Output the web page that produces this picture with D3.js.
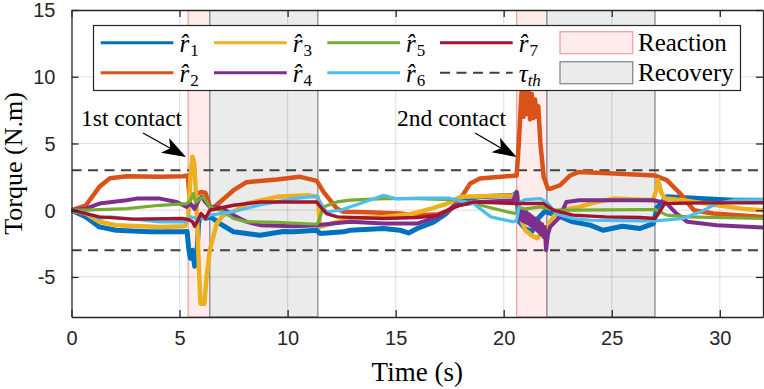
<!DOCTYPE html>
<html><head><meta charset="utf-8">
<script src="https://cdn.jsdelivr.net/npm/d3@7/dist/d3.min.js"></script>
<style>
html,body{margin:0;padding:0;background:#fff;}
svg{display:block;}
</style></head>
<body>
<svg id="chart" width="764" height="389"></svg>
<script>
// ---------------- DATA ----------------
const xTicks = [0, 5, 10, 15, 20, 25, 30];
const yTicks = [-5, 0, 5, 10, 15];
const threshold = 3;
const reactionSpans = [[5.4, 6.4], [20.6, 22.0]];
const recoverySpans = [[6.4, 11.4], [22.0, 27.0]];
const seriesNames = ["r1", "r2", "r3", "r4", "r5", "r6", "r7"];
const seriesColors = ["#0072BD", "#D95319", "#EDB120", "#7E2F8E", "#77AC30", "#4DBEEE", "#A2142F"];

const r1 = [[0,0],[0.67,-0.5],[1.29,-1.25],[2.06,-1.5],[3.6,-1.62],[5.15,-1.62],[5.35,-1.6],[5.42,-2.8],[5.5,-3.6],[5.6,-3.0],[5.7,-4.2],[5.8,-3.4],[5.88,-1.0],[5.95,-0.4],[6.2,-0.6],[6.45,-0.5],[6.87,-1.0],[7.5,-1.62],[8.73,-1.87],[9.8,-1.6],[10.27,-1.62],[11.35,-1.5],[11.5,-1.75],[12.58,-1.62],[12.9,-1.5],[14.44,-1.37],[15.2,-1.5],[15.6,-1.7],[16.0,-1.37],[16.75,-0.9],[17.3,-0.3],[18.0,0.8],[18.9,1.0],[20.45,1.12],[20.6,1.3],[20.7,-0.8],[21.0,-1.4],[21.3,-1.6],[21.6,-0.6],[21.9,-0.1],[22.46,-0.37],[23.2,-0.87],[24.0,-1.12],[24.6,-1.5],[25.5,-1.2],[26.3,-1.37],[26.93,-1.0],[27.1,0.2],[27.55,1.0],[29.1,0.87],[30.64,0.75],[32,0.75]];
const r2 = [[0,0],[0.67,0.37],[1.29,1.75],[1.78,2.4],[2.55,2.55],[4.1,2.5],[5.18,2.55],[5.38,2.6],[5.45,1.2],[5.6,1.0],[5.8,1.2],[6.0,1.37],[6.2,1.3],[6.4,0.3],[6.5,0.15],[6.7,0.37],[7.5,1.5],[8.1,2.1],[9.5,2.3],[10.58,2.5],[11.35,2.2],[11.66,1.37],[12.28,0.12],[12.58,-0.12],[13.67,-0.15],[15.2,-0.25],[16.0,-0.37],[17.0,-0.3],[17.5,0.0],[18.0,0.87],[18.45,2.0],[18.9,2.38],[20.6,2.6],[20.7,5.0],[20.78,7.5],[20.85,9.4],[20.92,7.0],[21.0,9.5],[21.07,7.2],[21.15,9.1],[21.22,6.8],[21.3,8.7],[21.37,6.9],[21.45,8.3],[21.52,7.0],[21.6,7.8],[21.7,5.0],[21.85,2.5],[22.05,1.6],[22.15,1.6],[22.6,1.87],[23.07,2.6],[23.5,2.87],[25.08,2.75],[27.0,2.6],[27.55,2.25],[28.17,1.25],[28.8,0.0],[29.7,-0.25],[32,-0.5]];
const r3 = [[0,0],[0.67,-0.25],[1.29,-0.87],[2.06,-1.12],[4.1,-1.25],[5.25,-1.2],[5.4,-0.5],[5.5,2.5],[5.6,4.0],[5.68,3.5],[5.75,1.5],[5.82,-1.0],[5.9,-4.5],[5.97,-7.0],[6.15,-7.0],[6.25,-5.0],[6.4,-3.0],[6.72,-1.0],[7.03,-0.37],[7.5,-0.1],[8.1,0.5],[9.5,1.0],[10.9,1.12],[11.4,1.0],[11.5,-1.25],[11.8,-1.12],[12.3,-0.87],[12.9,-0.62],[14.44,-0.5],[15.67,-0.3],[16.6,0.1],[17.4,0.5],[18.0,1.0],[20.45,1.1],[20.6,1.2],[20.75,-0.5],[21.0,-1.5],[21.3,-1.9],[21.55,-2.1],[21.8,-1.6],[22.0,-1.25],[22.3,-0.5],[22.6,0.0],[23.5,0.25],[24.3,0.62],[25.1,0.87],[26.9,0.75],[27.05,1.4],[27.15,2.25],[27.3,1.3],[27.45,0.87],[28.3,0.75],[29.87,0.37],[31.1,0.1],[32,0.0]];
const r4 = [[0,0],[0.67,0.12],[1.29,0.5],[2.55,0.75],[3.0,0.87],[4.1,0.87],[4.87,0.62],[5.33,0.25],[5.5,0.5],[5.7,0.1],[5.9,0.8],[6.03,1.0],[6.2,0.6],[6.4,0.25],[6.9,0.2],[7.5,-0.37],[8.1,-0.87],[8.73,-1.12],[10.27,-1.2],[11.35,-1.12],[12.1,-1.0],[12.9,-0.87],[14.44,-1.0],[16.0,-1.0],[17.06,-0.4],[17.8,0.37],[18.9,0.62],[20.45,0.75],[20.6,1.37],[20.7,0.0],[20.76,-0.7],[20.82,0.0],[20.88,-0.8],[20.94,-0.05],[21.0,-0.9],[21.06,-0.15],[21.12,-1.0],[21.18,-0.3],[21.24,-1.15],[21.3,-0.45],[21.36,-1.3],[21.42,-0.6],[21.48,-1.45],[21.54,-0.75],[21.6,-1.6],[21.66,-0.9],[21.72,-1.8],[21.78,-1.05],[21.84,-2.0],[21.9,-1.25],[21.96,-3.0],[22.05,-1.8],[22.15,-1.25],[22.6,-0.5],[22.9,0.62],[23.5,0.75],[26.3,0.75],[26.93,0.75],[27.55,0.5],[28.0,-0.25],[28.5,-0.87],[29.87,-1.12],[32,-1.3]];
const r5 = [[0,0],[0.67,0.0],[2.55,0.12],[4.1,0.37],[5.33,0.5],[5.5,0.7],[5.64,1.25],[5.75,0.6],[5.9,0.8],[6.1,1.0],[6.4,0.25],[6.9,0.0],[7.5,-0.62],[8.1,-0.87],[9.5,-0.9],[11.35,-1.05],[11.42,-0.9],[11.66,0.25],[12.28,0.62],[12.9,0.75],[14.44,0.87],[16.0,0.87],[17.5,0.8],[18.6,0.5],[20.15,-0.12],[20.6,-0.25],[20.7,0.2],[21.0,0.1],[21.7,0.25],[22.46,0.0],[23.2,0.0],[26.3,0.05],[27.0,0.05],[27.55,-0.37],[28.5,-0.5],[32,-0.62]];
const r6 = [[0,0],[0.67,-0.25],[1.29,-0.62],[1.78,-0.5],[2.55,-0.62],[4.1,-0.87],[5.33,-0.87],[5.5,-0.5],[5.8,-0.6],[6.2,-0.6],[6.4,-0.37],[7.46,-0.12],[8.73,0.4],[10.27,0.87],[11.35,1.05],[11.6,0.37],[11.8,-0.12],[12.43,0.0],[13.36,0.5],[14.44,1.12],[15.05,0.85],[16.0,0.9],[17.5,0.9],[18.6,0.5],[19.4,-0.5],[20.45,-0.87],[20.6,-0.75],[20.75,0.6],[21.0,0.8],[21.7,0.87],[22.0,0.6],[22.46,-0.3],[23.2,-0.62],[24.0,-0.75],[26.3,-0.8],[27.0,-0.8],[28.3,-0.62],[29.1,-0.12],[29.87,0.5],[30.64,0.75],[32,0.8]];
const r7 = [[0,0],[0.67,-0.25],[1.29,-0.5],[2.83,-0.67],[5.15,-0.62],[5.4,-0.7],[5.6,-0.87],[5.7,-1.2],[5.8,-0.9],[6.0,-0.25],[6.2,-0.6],[6.4,0.0],[7.5,0.37],[8.73,0.62],[11.35,0.62],[11.5,0.3],[11.8,-0.25],[12.3,-0.5],[14.44,-0.62],[16.0,-0.55],[16.9,-0.4],[17.4,0.0],[18.0,0.37],[18.6,0.62],[20.6,0.5],[21.85,0.5],[22.3,0.0],[23.2,-0.37],[24.7,-0.5],[26.3,-0.55],[27.0,-0.62],[27.1,-0.4],[27.45,0.5],[29.1,0.55],[32,0.55]];
const seriesData = [r1, r2, r3, r4, r5, r6, r7];
const seriesWidths = [5, 4.5, 4.5, 4, 3.2, 3.2, 3.4];

// ---------------- CHART ----------------
const svg = d3.select("#chart");
const L = 71.5, R = 763, T = 10, B = 317;
const x = d3.scaleLinear().domain([0, 32]).range([L, R]);
const y = d3.scaleLinear().domain([-8, 15]).range([B, T]);
const serif = "'Liberation Serif', 'Times New Roman', serif";
const sans = "'Liberation Sans', Arial, sans-serif";
const axisColor = "#262626";

svg.append("defs").append("clipPath").attr("id", "clip")
  .append("rect").attr("x", L).attr("y", T).attr("width", R - L).attr("height", B - T);

const plot = svg.append("g").attr("clip-path", "url(#clip)");

// bands
reactionSpans.forEach(s => {
  plot.append("rect").attr("x", x(s[0])).attr("y", T).attr("width", x(s[1]) - x(s[0])).attr("height", B - T)
    .attr("fill", "#fdeceb").attr("stroke", "#f4a3a3").attr("stroke-width", 1.3);
});
recoverySpans.forEach(s => {
  plot.append("rect").attr("x", x(s[0])).attr("y", T).attr("width", x(s[1]) - x(s[0])).attr("height", B - T)
    .attr("fill", "#ebebeb").attr("stroke", "#8a8a8a").attr("stroke-width", 1.3);
});

// grid
xTicks.filter(t => t > 0).forEach(t => {
  plot.append("line").attr("x1", x(t)).attr("x2", x(t)).attr("y1", T).attr("y2", B)
    .attr("stroke", "rgba(38,38,38,0.13)").attr("stroke-width", 1.2);
});
yTicks.filter(t => t < 15).forEach(t => {
  plot.append("line").attr("x1", L).attr("x2", R).attr("y1", y(t)).attr("y2", y(t))
    .attr("stroke", "rgba(38,38,38,0.13)").attr("stroke-width", 1.2);
});

// threshold lines
[threshold, -threshold].forEach(v => {
  plot.append("line").attr("x1", L).attr("x2", R).attr("y1", y(v)).attr("y2", y(v))
    .attr("stroke", "#404040").attr("stroke-width", 2).attr("stroke-dasharray", "10,6.5");
});

// series
const line = d3.line().x(d => x(d[0])).y(d => y(d[1]));
seriesData.forEach((data, i) => {
  plot.append("path").datum(data).attr("d", line)
    .attr("fill", "none").attr("stroke", seriesColors[i]).attr("stroke-width", seriesWidths[i])
    .attr("stroke-linejoin", "round").attr("stroke-linecap", "round");
});

// axes
const tickLen = 7;
const gx = svg.append("g").attr("transform", `translate(0,${B})`)
  .call(d3.axisBottom(x).tickValues(xTicks).tickSizeInner(-tickLen).tickSizeOuter(0).tickPadding(14));
const gxt = svg.append("g").attr("transform", `translate(0,${T})`)
  .call(d3.axisTop(x).tickValues(xTicks).tickSizeInner(-tickLen).tickSizeOuter(0).tickFormat(""));
const gy = svg.append("g").attr("transform", `translate(${L},0)`)
  .call(d3.axisLeft(y).tickValues(yTicks).tickSizeInner(-tickLen).tickSizeOuter(0).tickPadding(16));
const gyr = svg.append("g").attr("transform", `translate(${R},0)`)
  .call(d3.axisRight(y).tickValues(yTicks).tickSizeInner(-tickLen).tickSizeOuter(0).tickFormat(""));
[gx, gxt, gy, gyr].forEach(g => {
  g.select(".domain").attr("stroke", axisColor).attr("stroke-width", 1.3);
  g.selectAll(".tick line").attr("stroke", axisColor).attr("stroke-width", 1.3);
  g.selectAll(".tick text").attr("fill", axisColor).style("font-family", sans).style("font-size", "20px");
});
gy.selectAll(".tick text").text(d => d < 0 ? "-" + Math.abs(d) : d).attr("dy", "0.34em");

// axis labels
svg.append("text").attr("x", (L + R) / 2).attr("y", 381).attr("text-anchor", "middle")
  .style("font-family", serif).style("font-size", "27px").attr("fill", "#000").text("Time (s)");
svg.append("text").attr("transform", `translate(22,${(T + B) / 2}) rotate(-90)`).attr("text-anchor", "middle")
  .style("font-family", serif).style("font-size", "26px").attr("fill", "#000").text("Torque (N.m)");

// annotations
function arrow(x1, y1, x2, y2) {
  const dx = x2 - x1, dy = y2 - y1, len = Math.hypot(dx, dy);
  const ux = dx / len, uy = dy / len, px = -uy, py = ux;
  const hl = 24, hw = 8.5, notch = 6;
  const bx = x2 - ux * hl, by = y2 - uy * hl;
  svg.append("line").attr("x1", x1).attr("y1", y1).attr("x2", bx + ux * notch).attr("y2", by + uy * notch)
    .attr("stroke", "#000").attr("stroke-width", 1.3);
  const pts = [[x2, y2], [bx + px * hw, by + py * hw], [bx + ux * notch, by + uy * notch], [bx - px * hw, by - py * hw]];
  svg.append("polygon").attr("points", pts.map(p => p.join(",")).join(" ")).attr("fill", "#000");
}
svg.append("text").attr("x", 81).attr("y", 126).style("font-family", serif).style("font-size", "23.5px").text("1st contact");
arrow(143, 133, 186, 157);
svg.append("text").attr("x", 397).attr("y", 126).style("font-family", serif).style("font-size", "23.5px").text("2nd contact");
arrow(475, 133, 516.5, 157);

// legend
const lg = svg.append("g");
lg.append("rect").attr("x", 93.5).attr("y", 25.5).attr("width", 647).attr("height", 65)
  .attr("fill", "#fff").attr("stroke", axisColor).attr("stroke-width", 1.2);
const rowY = [42.7, 72.7];
const colX = [100.7, 214, 327.3, 440];
const lineLen = 72.7;
function rhatLabel(xp, yb, sub) {
  const t = lg.append("text").attr("x", xp).attr("y", yb).style("font-family", serif).style("font-size", "25px");
  t.append("tspan").style("font-style", "italic").text("r\u0302");
  t.append("tspan").attr("dy", 4).attr("dx", 1).style("font-size", "17px").text(sub);
}
seriesNames.forEach((n, i) => {
  const col = Math.floor(i / 2), row = i % 2;
  const lx = colX[col], ly = rowY[row];
  lg.append("line").attr("x1", lx).attr("x2", lx + lineLen).attr("y1", ly).attr("y2", ly)
    .attr("stroke", seriesColors[i]).attr("stroke-width", 3);
  rhatLabel(lx + lineLen + 6, ly + 9, n.slice(1));
});
// threshold legend entry
lg.append("line").attr("x1", colX[3]).attr("x2", colX[3] + lineLen).attr("y1", rowY[1]).attr("y2", rowY[1])
  .attr("stroke", "#404040").attr("stroke-width", 2).attr("stroke-dasharray", "10,6.5");
const tau = lg.append("text").attr("x", colX[3] + lineLen + 6).attr("y", rowY[1] + 9)
  .style("font-family", serif).style("font-size", "25px").style("font-style", "italic");
tau.append("tspan").text("\u03C4");
tau.append("tspan").attr("dy", 4).style("font-size", "17px").text("th");
// band legend entries
const patchX = 560, patchW = 72.7, patchH = 22;
lg.append("rect").attr("x", patchX).attr("y", rowY[0] - patchH / 2).attr("width", patchW).attr("height", patchH)
  .attr("fill", "#fdeceb").attr("stroke", "#f4a3a3").attr("stroke-width", 1.3);
lg.append("text").attr("x", 638).attr("y", rowY[0] + 8).style("font-family", serif).style("font-size", "25px").text("Reaction");
lg.append("rect").attr("x", patchX).attr("y", rowY[1] - patchH / 2).attr("width", patchW).attr("height", patchH)
  .attr("fill", "#ebebeb").attr("stroke", "#8a8a8a").attr("stroke-width", 1.3);
lg.append("text").attr("x", 638).attr("y", rowY[1] + 8).style("font-family", serif).style("font-size", "25px").text("Recovery");
</script>
</body></html>
